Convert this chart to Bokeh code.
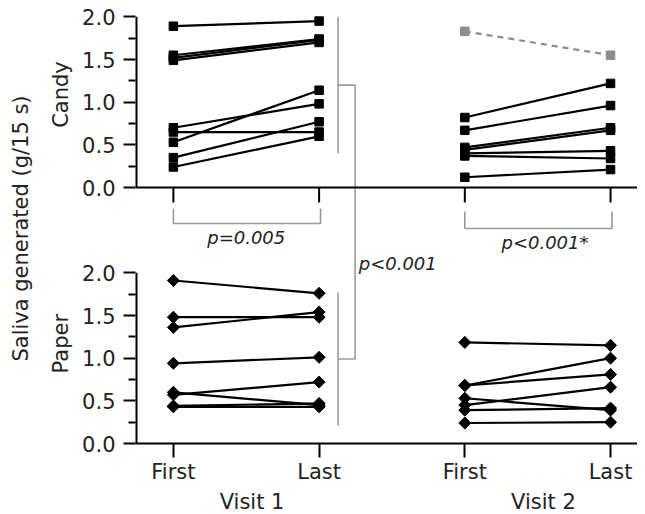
import math
import numpy as np
from bokeh.plotting import figure
from bokeh.models import (Range1d, LinearAxis, FixedTicker, CustomJSTickFormatter, Span)
from bokeh.core.properties import value
from bokeh.embed import file_html
from bokeh.resources import INLINE

# ---------------- data ----------------
categories = ["First", "Last", "First", "Last"]
cat_pos = [1, 2, 3, 4]
visit_labels = ["Visit 1", "Visit 2"]
yticks = [0.0, 0.5, 1.0, 1.5, 2.0]
yminor = [0.25, 0.75, 1.25, 1.75]

candy_v1_first = [1.89, 1.55, 1.52, 1.49, 0.70, 0.65, 0.53, 0.35, 0.24]
candy_v1_last = [1.95, 1.74, 1.73, 1.70, 0.98, 0.65, 1.14, 0.77, 0.60]
candy_v2_first = [0.82, 0.67, 0.47, 0.44, 0.40, 0.37, 0.12]
candy_v2_last = [1.22, 0.96, 0.70, 0.67, 0.43, 0.34, 0.21]
candy_v2_grey_first = [1.83]
candy_v2_grey_last = [1.55]

paper_v1_first = [1.91, 1.48, 1.36, 0.94, 0.60, 0.57, 0.44, 0.43]
paper_v1_last = [1.76, 1.48, 1.54, 1.01, 0.45, 0.72, 0.47, 0.43]
paper_v2_first = [1.185, 0.68, 0.68, 0.45, 0.53, 0.39, 0.24]
paper_v2_last = [1.15, 1.00, 0.81, 0.66, 0.39, 0.415, 0.25]

p_texts = ["p=0.005", "p<0.001*", "p<0.001"]
panel_names = ["Paper", "Candy"]
y_title = "Saliva generated (g/15 s)"

# ---------------- layout / style ----------------
FONT = "DejaVu Sans"
TXT = "#222222"
GREY = "#9a9a9a"
OFFSET = 3.0           # top (candy) panel offset in main units
FRAME_H = 430
PX = 256 / OFFSET      # pixels per unit
Y_END = FRAME_H / PX
X_START, X_END = 0.74, 4.185

p = figure(width=637, frame_width=502, frame_height=FRAME_H,
           x_range=Range1d(X_START, X_END), y_range=Range1d(0, Y_END),
           output_backend="svg", toolbar_location=None,
           min_border_left=135, min_border_right=0, min_border_top=13,
           min_border_bottom=0)
p.extra_y_ranges = {"candy": Range1d(-OFFSET, Y_END - OFFSET)}
p.grid.visible = False
p.outline_line_color = None
p.background_fill_color = "white"
p.border_fill_color = "white"

# ---- left axis (both panels) ----
ya = p.yaxis[0]
ya.ticker = FixedTicker(ticks=yticks + [t + OFFSET for t in yticks],
                        minor_ticks=yminor + [t + OFFSET for t in yminor])
ya.formatter = CustomJSTickFormatter(args=dict(off=OFFSET),
    code="return (tick > off - 0.5 ? tick - off : tick).toFixed(1);")
ya.axis_line_color = None
ya.major_tick_out = 12
ya.major_tick_in = 0
ya.minor_tick_out = 7
ya.minor_tick_in = 0
ya.major_tick_line_width = 2
ya.minor_tick_line_width = 2
ya.major_label_standoff = 8
ya.major_label_text_font = FONT
ya.major_label_text_font_size = "21px"
ya.major_label_text_color = TXT

# ---- outer left axis: panel names + overall title ----
name_pos = [1.17, 1.09 + OFFSET]
yn = LinearAxis(ticker=FixedTicker(ticks=name_pos, minor_ticks=[]),
                formatter=CustomJSTickFormatter(args=dict(pos=name_pos, labels=panel_names),
                    code="const i = pos.indexOf(tick); return i >= 0 ? labels[i] : '';"),
                axis_line_color=None, major_tick_line_color=None,
                minor_tick_line_color=None, major_tick_out=0, major_tick_in=0,
                major_label_standoff=6, major_label_orientation="vertical",
                major_label_text_font=FONT, major_label_text_font_size="21px",
                major_label_text_color=TXT,
                axis_label=y_title, axis_label_standoff=14,
                axis_label_text_font=FONT, axis_label_text_font_size="21px",
                axis_label_text_font_style="normal", axis_label_text_color=TXT)
p.add_layout(yn, "left")

# ---- bottom axis ----
xa = p.xaxis[0]
xa.ticker = FixedTicker(ticks=cat_pos, minor_ticks=[])
xa.formatter = CustomJSTickFormatter(args=dict(pos=cat_pos, labels=categories),
    code="const i = pos.indexOf(tick); return i >= 0 ? labels[i] : '';")
xa.axis_line_width = 2
xa.major_tick_out = 14
xa.major_tick_in = 0
xa.major_tick_line_width = 2
xa.major_label_standoff = 2
xa.major_label_text_font = FONT
xa.major_label_text_font_size = "21px"
xa.major_label_text_color = TXT

visit_pos = [(cat_pos[0] + cat_pos[1]) / 2 + 0.04, (cat_pos[2] + cat_pos[3]) / 2 + 0.04]
xa2 = LinearAxis(ticker=FixedTicker(ticks=visit_pos, minor_ticks=[]),
                 formatter=CustomJSTickFormatter(args=dict(pos=visit_pos, labels=visit_labels),
                     code="const i = pos.indexOf(tick); return i >= 0 ? labels[i] : '';"),
                 axis_line_color=None, major_tick_line_color=None,
                 minor_tick_line_color=None, major_tick_out=0, major_tick_in=0,
                 major_label_standoff=3, major_label_text_font=FONT,
                 major_label_text_font_size="21px", major_label_text_color=TXT)
p.add_layout(xa2, "below")

# ---- axis lines for each panel ----
p.segment(x0=[X_START], y0=[yticks[0]], x1=[X_START], y1=[yticks[-1]],
          line_color="black", line_width=4)
p.segment(x0=[X_START], y0=[yticks[0]], x1=[X_START], y1=[yticks[-1]],
          line_color="black", line_width=4, y_range_name="candy")
p.add_layout(Span(location=OFFSET, dimension="width", line_color="black", line_width=2))
TICK = 15 / PX
p.segment(x0=cat_pos, y0=[0] * 4, x1=cat_pos, y1=[-TICK] * 4,
          line_color="black", line_width=2, y_range_name="candy")

# ---- data lines & markers ----
def pairs(first, last, x0, x1, yname, marker, angle, color="black", dash="solid"):
    n = len(first)
    kw = {} if yname is None else {"y_range_name": yname}
    p.segment(x0=[x0] * n, y0=first, x1=[x1] * n, y1=last,
              line_color=color, line_width=2.2, line_dash=dash, **kw)
    p.scatter(x=[x0] * n + [x1] * n, y=list(first) + list(last), marker=marker,
              angle=angle, size=8.5, fill_color=color, line_color=color, **kw)

pairs(candy_v1_first, candy_v1_last, cat_pos[0], cat_pos[1], "candy", "square", 0)
pairs(candy_v2_first, candy_v2_last, cat_pos[2], cat_pos[3], "candy", "square", 0)
pairs(candy_v2_grey_first, candy_v2_grey_last, cat_pos[2], cat_pos[3], "candy", "square", 0,
      color="#8c8c8c", dash="6 5")
pairs(paper_v1_first, paper_v1_last, cat_pos[0], cat_pos[1], None, "square", math.pi / 4)
pairs(paper_v2_first, paper_v2_last, cat_pos[2], cat_pos[3], None, "square", math.pi / 4)

# ---- brackets and significance annotations ----
b1_top, b1_bot = -21 / PX, -36 / PX
b2_top, b2_bot = -24 / PX, -41 / PX
p.multi_line(xs=[[cat_pos[0], cat_pos[0], cat_pos[1] + 0.01, cat_pos[1] + 0.01],
                 [cat_pos[2], cat_pos[2], cat_pos[3] + 0.01, cat_pos[3] + 0.01]],
             ys=[[b1_top, b1_bot, b1_bot, b1_top], [b2_top, b2_bot, b2_bot, b2_top]],
             line_color=GREY, line_width=1.6, y_range_name="candy")

rx, bx = cat_pos[1] + 0.13, cat_pos[1] + 0.247
p.segment(x0=[rx], y0=[0.40], x1=[rx], y1=[2.0], line_color=GREY, line_width=1.6,
          y_range_name="candy")
p.segment(x0=[rx], y0=[0.21], x1=[rx], y1=[1.77], line_color=GREY, line_width=1.6)
p.line(x=[rx, bx, bx, rx], y=[(0.40 + 2.0) / 2 + OFFSET, (0.40 + 2.0) / 2 + OFFSET,
                              (0.21 + 1.77) / 2, (0.21 + 1.77) / 2],
       line_color=GREY, line_width=1.6)

txt_kw = dict(text_font=value(FONT), text_font_style="italic", text_font_size="18px",
              text_color=TXT, text_baseline="middle")
p.text(x=[(cat_pos[0] + cat_pos[1]) / 2, (cat_pos[2] + cat_pos[3]) / 2 + 0.05],
       y=[-50 / PX, -55 / PX], text=p_texts[:2], text_align="center",
       y_range_name="candy", **txt_kw)
p.text(x=[bx + 0.025], y=[-75.5 / PX], text=[p_texts[2]], text_align="left",
       y_range_name="candy", **txt_kw)

open("out.html", "w").write(file_html(p, INLINE))
